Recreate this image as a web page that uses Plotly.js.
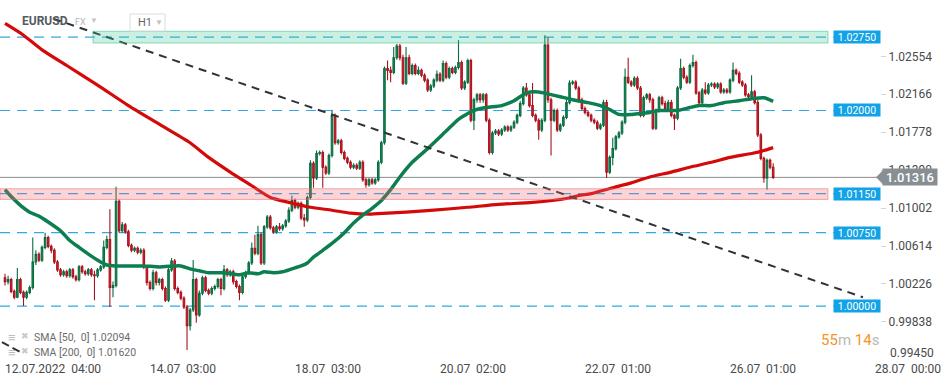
<!DOCTYPE html>
<html>
<head>
<meta charset="utf-8">
<script src="https://cdn.plot.ly/plotly-3.0.1.min.js"></script>
<style>
html,body{margin:0;padding:0;background:#fff;}
#chart{width:949px;height:385px;}
</style>
</head>
<body>
<div id="chart"></div>
<script>
// ---------------- DATA ----------------
const openP = [
1.0029,1.0025,1.0027,1.0015,1.0009,1.0027,1.0014,1.0009,1.0014,1.0019,
1.0045,1.0053,1.0047,1.0060,1.0070,1.0061,1.0057,1.0045,1.0037,1.0032,
1.0035,1.0031,1.0037,1.0030,1.0027,1.0040,1.0035,1.0033,1.0037,1.0032,
1.0031,1.0037,1.0040,1.0060,1.0068,1.0019,1.0021,1.0107,1.0077,1.0083,
1.0076,1.0062,1.0057,1.0059,1.0055,1.0057,1.0040,1.0024,1.0018,1.0034,
1.0024,1.0027,1.0018,1.0006,1.0037,1.0046,1.0018,1.0014,1.0008,0.9999,
0.9980,0.9996,1.0027,0.9991,1.0013,1.0029,1.0016,1.0013,1.0018,1.0020,
1.0027,1.0018,1.0037,1.0032,1.0035,1.0025,1.0020,1.0014,1.0030,1.0034,
1.0044,1.0059,1.0054,1.0073,1.0044,1.0081,1.0091,1.0080,1.0076,1.0081,
1.0079,1.0082,1.0087,1.0098,1.0108,1.0101,1.0105,1.0090,1.0088,1.0111,
1.0146,1.0131,1.0156,1.0157,1.0142,1.0136,1.0154,1.0195,1.0167,1.0169,
1.0157,1.0151,1.0147,1.0142,1.0144,1.0141,1.0147,1.0129,1.0124,1.0129,
1.0126,1.0129,1.0147,1.0167,1.0243,1.0241,1.0239,1.0254,1.0266,1.0254,
1.0228,1.0254,1.0238,1.0246,1.0238,1.0241,1.0236,1.0231,1.0221,1.0225,
1.0231,1.0237,1.0231,1.0248,1.0234,1.0243,1.0239,1.0244,1.0249,1.0223,
1.0229,1.0251,1.0190,1.0211,1.0216,1.0211,1.0216,1.0190,1.0157,1.0177,
1.0179,1.0176,1.0180,1.0183,1.0180,1.0183,1.0188,1.0195,1.0207,1.0223,
1.0216,1.0205,1.0195,1.0190,1.0180,1.0190,1.0267,1.0211,1.0190,1.0200,
1.0180,1.0185,1.0193,1.0208,1.0228,1.0229,1.0223,1.0211,1.0202,1.0198,
1.0195,1.0190,1.0188,1.0182,1.0185,1.0208,1.0137,1.0152,1.0161,1.0173,
1.0177,1.0188,1.0234,1.0229,1.0226,1.0233,1.0223,1.0195,1.0213,1.0216,
1.0211,1.0182,1.0200,1.0213,1.0207,1.0202,1.0208,1.0195,1.0192,1.0223,
1.0243,1.0234,1.0229,1.0246,1.0249,1.0218,1.0208,1.0221,1.0218,1.0226,
1.0227,1.0224,1.0227,1.0219,1.0221,1.0219,1.0231,1.0241,1.0238,1.0229,
1.0226,1.0216,1.0214,1.0219,1.0208,1.0175,1.0151,1.0131,1.0149,1.0142];

const highP = [
1.0033,1.0031,1.0029,1.0017,1.0039,1.0029,1.0016,1.0016,1.0021,1.0070,
1.0057,1.0055,1.0062,1.0075,1.0072,1.0063,1.0059,1.0047,1.0039,1.0037,
1.0037,1.0039,1.0039,1.0032,1.0042,1.0042,1.0037,1.0039,1.0039,1.0036,
1.0039,1.0042,1.0067,1.0072,1.0099,1.0025,1.0122,1.0109,1.0086,1.0085,
1.0078,1.0064,1.0061,1.0061,1.0059,1.0059,1.0042,1.0026,1.0037,1.0036,
1.0029,1.0029,1.0020,1.0039,1.0049,1.0048,1.0020,1.0016,1.0010,1.0001,
0.9998,1.0047,1.0029,1.0016,1.0031,1.0031,1.0018,1.0020,1.0022,1.0029,
1.0029,1.0042,1.0039,1.0037,1.0037,1.0027,1.0022,1.0032,1.0036,1.0046,
1.0065,1.0073,1.0082,1.0075,1.0083,1.0093,1.0093,1.0082,1.0083,1.0085,
1.0084,1.0089,1.0101,1.0113,1.0110,1.0107,1.0107,1.0094,1.0113,1.0149,
1.0148,1.0159,1.0159,1.0159,1.0144,1.0156,1.0200,1.0197,1.0171,1.0171,
1.0159,1.0153,1.0149,1.0146,1.0146,1.0149,1.0149,1.0131,1.0131,1.0131,
1.0131,1.0149,1.0169,1.0245,1.0251,1.0245,1.0265,1.0268,1.0268,1.0257,
1.0265,1.0257,1.0248,1.0248,1.0245,1.0243,1.0238,1.0233,1.0227,1.0233,
1.0241,1.0239,1.0251,1.0250,1.0245,1.0245,1.0246,1.0272,1.0251,1.0231,
1.0253,1.0253,1.0213,1.0218,1.0218,1.0218,1.0218,1.0192,1.0179,1.0181,
1.0181,1.0182,1.0185,1.0185,1.0185,1.0190,1.0197,1.0210,1.0225,1.0228,
1.0218,1.0228,1.0197,1.0192,1.0192,1.0277,1.0275,1.0213,1.0202,1.0202,
1.0187,1.0195,1.0211,1.0231,1.0231,1.0231,1.0225,1.0213,1.0204,1.0200,
1.0197,1.0192,1.0190,1.0187,1.0211,1.0211,1.0154,1.0172,1.0175,1.0179,
1.0190,1.0243,1.0254,1.0231,1.0235,1.0235,1.0225,1.0215,1.0218,1.0218,
1.0213,1.0202,1.0215,1.0215,1.0210,1.0211,1.0211,1.0197,1.0225,1.0253,
1.0245,1.0236,1.0248,1.0257,1.0251,1.0220,1.0223,1.0229,1.0228,1.0229,
1.0229,1.0229,1.0229,1.0223,1.0223,1.0233,1.0249,1.0243,1.0240,1.0231,
1.0228,1.0218,1.0236,1.0221,1.0211,1.0177,1.0153,1.0151,1.0151,1.0146];

const lowP = [
1.0021,1.0022,1.0013,1.0007,1.0008,1.0012,1.0000,1.0007,1.0012,1.0017,
1.0042,1.0045,1.0045,1.0058,1.0059,1.0054,1.0043,1.0035,1.0030,1.0030,
1.0029,1.0029,1.0028,1.0025,1.0025,1.0033,1.0031,1.0031,1.0030,1.0006,
1.0029,1.0035,1.0038,1.0058,0.9999,1.0009,1.0019,1.0075,1.0075,1.0074,
1.0060,1.0055,1.0055,1.0053,1.0053,1.0038,1.0021,1.0016,1.0016,1.0021,
1.0021,1.0016,1.0004,1.0004,1.0035,1.0016,1.0012,1.0006,0.9997,0.9955,
0.9975,0.9994,0.9983,0.9989,1.0011,1.0014,1.0011,1.0011,1.0016,1.0018,
1.0011,1.0016,1.0030,1.0030,1.0022,1.0018,1.0006,1.0012,1.0028,1.0032,
1.0042,1.0052,1.0052,1.0042,1.0042,1.0079,1.0078,1.0074,1.0074,1.0077,
1.0077,1.0080,1.0085,1.0096,1.0099,1.0099,1.0088,1.0081,1.0086,1.0109,
1.0121,1.0129,1.0154,1.0121,1.0134,1.0134,1.0152,1.0165,1.0165,1.0155,
1.0149,1.0145,1.0140,1.0140,1.0139,1.0139,1.0127,1.0121,1.0122,1.0124,
1.0124,1.0127,1.0145,1.0165,1.0231,1.0229,1.0237,1.0252,1.0251,1.0226,
1.0226,1.0236,1.0236,1.0236,1.0236,1.0234,1.0229,1.0219,1.0219,1.0223,
1.0229,1.0229,1.0229,1.0232,1.0232,1.0237,1.0237,1.0242,1.0221,1.0221,
1.0227,1.0188,1.0180,1.0208,1.0208,1.0208,1.0188,1.0155,1.0155,1.0175,
1.0174,1.0174,1.0178,1.0178,1.0178,1.0181,1.0186,1.0193,1.0205,1.0214,
1.0203,1.0193,1.0188,1.0170,1.0178,1.0188,1.0208,1.0154,1.0188,1.0178,
1.0178,1.0183,1.0191,1.0206,1.0226,1.0221,1.0208,1.0200,1.0196,1.0193,
1.0188,1.0186,1.0180,1.0180,1.0183,1.0131,1.0135,1.0144,1.0159,1.0171,
1.0175,1.0186,1.0227,1.0224,1.0224,1.0221,1.0193,1.0193,1.0211,1.0208,
1.0180,1.0180,1.0198,1.0205,1.0200,1.0200,1.0193,1.0180,1.0190,1.0221,
1.0232,1.0227,1.0227,1.0244,1.0216,1.0206,1.0206,1.0216,1.0216,1.0224,
1.0222,1.0222,1.0217,1.0217,1.0217,1.0217,1.0229,1.0236,1.0227,1.0224,
1.0214,1.0212,1.0212,1.0206,1.0173,1.0149,1.0126,1.0119,1.0140,1.0130];

const closeP = [
1.0025,1.0027,1.0015,1.0009,1.0027,1.0014,1.0009,1.0014,1.0019,1.0045,
1.0053,1.0047,1.0060,1.0070,1.0061,1.0057,1.0045,1.0037,1.0032,1.0035,
1.0031,1.0037,1.0030,1.0027,1.0040,1.0035,1.0033,1.0037,1.0032,1.0031,
1.0037,1.0040,1.0060,1.0068,1.0019,1.0021,1.0107,1.0077,1.0083,1.0076,
1.0062,1.0057,1.0059,1.0055,1.0057,1.0040,1.0024,1.0018,1.0034,1.0024,
1.0027,1.0018,1.0006,1.0037,1.0046,1.0018,1.0014,1.0008,0.9999,0.9980,
0.9996,1.0027,0.9991,1.0013,1.0029,1.0016,1.0013,1.0018,1.0020,1.0027,
1.0018,1.0037,1.0032,1.0035,1.0025,1.0020,1.0014,1.0030,1.0034,1.0044,
1.0059,1.0054,1.0073,1.0044,1.0081,1.0091,1.0080,1.0076,1.0081,1.0079,
1.0082,1.0087,1.0098,1.0108,1.0101,1.0105,1.0090,1.0088,1.0111,1.0146,
1.0131,1.0156,1.0157,1.0142,1.0136,1.0154,1.0195,1.0167,1.0169,1.0157,
1.0151,1.0147,1.0142,1.0144,1.0141,1.0147,1.0129,1.0124,1.0129,1.0126,
1.0129,1.0147,1.0167,1.0243,1.0241,1.0239,1.0254,1.0266,1.0254,1.0228,
1.0254,1.0238,1.0246,1.0238,1.0241,1.0236,1.0231,1.0221,1.0225,1.0231,
1.0237,1.0231,1.0248,1.0234,1.0243,1.0239,1.0244,1.0249,1.0223,1.0229,
1.0251,1.0190,1.0211,1.0216,1.0211,1.0216,1.0190,1.0157,1.0177,1.0179,
1.0176,1.0180,1.0183,1.0180,1.0183,1.0188,1.0195,1.0207,1.0223,1.0216,
1.0205,1.0195,1.0190,1.0180,1.0190,1.0267,1.0211,1.0190,1.0200,1.0180,
1.0185,1.0193,1.0208,1.0228,1.0229,1.0223,1.0211,1.0202,1.0198,1.0195,
1.0190,1.0188,1.0182,1.0185,1.0208,1.0137,1.0152,1.0161,1.0173,1.0177,
1.0188,1.0234,1.0229,1.0226,1.0233,1.0223,1.0195,1.0213,1.0216,1.0211,
1.0182,1.0200,1.0213,1.0207,1.0202,1.0208,1.0195,1.0192,1.0223,1.0243,
1.0234,1.0229,1.0246,1.0249,1.0218,1.0208,1.0221,1.0218,1.0226,1.0227,
1.0224,1.0227,1.0219,1.0221,1.0219,1.0231,1.0241,1.0238,1.0229,1.0226,
1.0216,1.0214,1.0219,1.0208,1.0175,1.0151,1.0131,1.0149,1.0142,1.01316];

// SMA 50 (green) read at bar indices
const sma50X = [0,2,5,8,11,14,18,21,24,28,31,33,36,41,45,50,55,57,60,63,66,71,76,79,82,84,87,90,93,96,98,100,103,106,110,113,116,119,122,125,128,132,137,143,147,152,156,161,165,169,173,176,180,184,189,193,196,199,203,206,209,212,218,222,225,229,233,238,242,246,249];
const sma50Y = [1.0119,1.0112,1.0103,1.0096,1.0092,1.0086,1.0077,1.0067,1.0060,1.0051,1.0045,1.0042,1.0041,1.0041,1.0041,1.0040,1.0041,1.0041,1.0038,1.0036,1.0034,1.0034,1.0032,1.0034,1.0033,1.0035,1.0034,1.0035,1.0038,1.0041,1.0044,1.0050,1.0057,1.0064,1.0075,1.0085,1.0093,1.0100,1.0108,1.0119,1.0132,1.0147,1.0161,1.0179,1.0191,1.0200,1.0203,1.0205,1.0210,1.0218,1.0219,1.0217,1.0214,1.0211,1.0208,1.0205,1.0201,1.0196,1.0196,1.0197,1.0198,1.0200,1.0200,1.0203,1.0205,1.0205,1.0208,1.0210,1.0212,1.0213,1.02094];

// SMA 200 (red)
const sma200X = [0,6,12,20,30,40,50,60,66,73,80,86,92,99,106,112,118,124,130,139,150,160,171,182,186,190,197,203,209,216,222,229,235,242,246,249];
const sma200Y = [1.0289,1.0277,1.0262,1.0246,1.0226,1.0205,1.0186,1.0167,1.0152,1.0137,1.0123,1.0111,1.0106,1.0101,1.0098,1.0095,1.0094,1.0095,1.0096,1.0098,1.0101,1.0104,1.0106,1.0110,1.0113,1.0115,1.0121,1.0126,1.0132,1.0137,1.0142,1.0147,1.0152,1.0156,1.0159,1.01620];

// x-axis tick labels (bar index -> time)
const tickBars = [0,47,94,141,188,235,282];
const tickLabels = ['12.07.2022  04:00','14.07  03:00','18.07  03:00','20.07  02:00','22.07  01:00','26.07  01:00','28.07  00:00'];

// y-axis ticks (lowest one drawn as a label just above the time axis)
const yTicks = [1.02554,1.02166,1.01778,1.01390,1.01002,1.00614,1.00226,0.99838];
const yBottomTick = 0.99450;

// horizontal levels
const levels = [1.0275,1.0200,1.0115,1.0075,1.0000];
const levelLabels = ['1.02750','1.02000','1.01150','1.00750','1.00000'];
const greenBand = [1.0269,1.0281];
const redBand = [1.0109,1.0120];
const lastPrice = 1.01316;

// trend lines (drawn tools)
const trendX = [15.6,278.1];
const trendY = [1.0294,1.0009];
const trend2X = [-1.0,4.9];
const trend2Y = [0.9963,0.9953];

// ---------------- LAYOUT HELPERS ----------------
const W = 880, H = 360;           // plot area in px
const STEP = 3.085, X0 = 5;        // px per bar, px of bar 0
const barAt = px => (px - X0) / STEP;
const P = px => px / W;
const Q = py => 1 - py / H;
const xr = [barAt(0), barAt(W)];
const yr = [0.99448, 1.0313];
const FONT = 'Roboto, Arial, sans-serif';
const idx = closeP.map((_, i) => i);

const traces = [
  {type:'scatter', mode:'lines', x:sma200X, y:sma200Y, line:{color:'#d40a0a', width:3.2, shape:'spline', smoothing:0.6}, hoverinfo:'skip'},
  {type:'scatter', mode:'lines', x:sma50X, y:sma50Y, line:{color:'#0c7f50', width:3.5, shape:'spline', smoothing:0.6}, hoverinfo:'skip'},
  {type:'candlestick', x:idx, open:openP, high:highP, low:lowP, close:closeP,
   increasing:{line:{color:'#0a6b41', width:1.1}, fillcolor:'#14975c'},
   decreasing:{line:{color:'#a9131d', width:1.1}, fillcolor:'#e3232f'},
   whiskerwidth:0, hoverinfo:'skip'},
  {type:'scatter', mode:'lines', x:trendX, y:trendY, line:{color:'#2e3338', width:2, dash:'8px,6px'}, hoverinfo:'skip'},
  {type:'scatter', mode:'lines', x:trend2X, y:trend2Y, line:{color:'#2e3338', width:2, dash:'8px,4px'}, hoverinfo:'skip'}
];

const shapes = [];
levels.forEach(v => shapes.push({type:'line', xref:'x', yref:'y', x0:xr[0], x1:barAt(834), y0:v, y1:v,
  line:{color:'#33a8e2', width:1.2, dash:'10px,7px'}, layer:'below'}));
shapes.push({type:'line', xref:'paper', yref:'y', x0:0, x1:1, y0:lastPrice, y1:lastPrice, line:{color:'#8c8c8c', width:1}, layer:'below'});
shapes.push({type:'rect', xref:'x', yref:'y', x0:barAt(93), x1:barAt(828), y0:greenBand[0], y1:greenBand[1],
  fillcolor:'rgba(60,200,150,0.28)', line:{color:'rgba(60,190,140,0.55)', width:1}, layer:'above'});
shapes.push({type:'rect', xref:'x', yref:'y', x0:xr[0], x1:barAt(828), y0:redBand[0], y1:redBand[1],
  fillcolor:'rgba(238,100,108,0.28)', line:{color:'rgba(238,100,108,0.5)', width:1}, layer:'above'});
// H1 box
shapes.push({type:'rect', xref:'paper', yref:'paper', x0:P(130), x1:P(165), y0:Q(31), y1:Q(14), line:{color:'#dcdcdc', width:1}, fillcolor:'#fff', layer:'above'});
// current price badge arrow
const dy = 8 / (H / (yr[1] - yr[0]));
shapes.push({type:'path', xref:'paper', yref:'y',
  path:`M ${P(876)},${lastPrice} L ${P(884)},${lastPrice + dy} L ${P(884)},${lastPrice - dy} Z`,
  fillcolor:'#878f94', line:{width:0}, layer:'above'});

const annotations = [];
levels.forEach((v, i) => annotations.push({xref:'paper', yref:'y', x:P(857), y:v, xanchor:'center', yanchor:'middle',
  text:levelLabels[i], showarrow:false, bgcolor:'#12a2e6', width:46, height:12, borderpad:0,
  font:{family:FONT, size:10.5, color:'#ffffff'}}));
annotations.push({xref:'paper', yref:'y', x:P(910), y:lastPrice, xanchor:'center', yanchor:'middle',
  text:'1.01316', showarrow:false, bgcolor:'#878f94', width:54, height:16, borderpad:0,
  font:{family:FONT, size:13, color:'#ffffff', weight:500}});
const txt = (x, y, text, size, color, anchor, weight) => annotations.push({xref:'paper', yref:'paper', x:P(x), y:Q(y),
  xanchor:anchor || 'left', yanchor:'middle', text, showarrow:false, font:{family:FONT, size, color, weight:weight || 400}});
txt(20, 21, 'EURUSD', 12, '#555b61', 'left', 700);
txt(73, 22, 'FX', 9, '#b4b4b4');
txt(88, 20, '▼', 8, '#c6c6c6');
txt(136, 22.5, 'H1', 11, '#666666');
txt(153, 22, '▼', 8, '#c0c0c0');
txt(6, 337, '≡', 13, '#bdbdbd');
txt(19, 336, '✖', 9, '#c8c8c8');
txt(6, 352, '≡', 13, '#bdbdbd');
txt(19, 351, '✖', 9, '#c8c8c8');
txt(32, 337, 'SMA [50,  0] 1.02094', 10.5, '#6b6b6b');
txt(32, 352, 'SMA [200,  0] 1.01620', 10.5, '#6b6b6b');
txt(881, 340, '<span style="color:#f7931e">55</span><span style="color:#b8b8b8">m </span><span style="color:#f7931e">14</span><span style="color:#b8b8b8">s</span>', 15, '#f7931e', 'right');
txt(888, 353, yBottomTick.toFixed(5), 12, '#4a4a4a');

const layout = {
  width:949, height:385,
  margin:{l:0, r:949 - W, t:0, b:385 - H, pad:0},
  paper_bgcolor:'#ffffff', plot_bgcolor:'#ffffff',
  showlegend:false,
  font:{family:FONT},
  xaxis:{range:xr, showgrid:false, zeroline:false, showline:false,
    tickmode:'array', tickvals:tickBars, ticktext:tickLabels.map(s => s.replace(/ /g, '\u00a0')),
    ticks:'', ticklabelposition:'outside right', tickfont:{family:FONT, size:12, color:'#4a4a4a'},
    rangeslider:{visible:false}, fixedrange:true},
  yaxis:{range:yr, side:'right', showgrid:false, zeroline:false, showline:false,
    tickmode:'array', tickvals:yTicks, ticktext:yTicks.map(v => v.toFixed(5)),
    ticks:'outside', ticklen:5, tickcolor:'#d4d4d4', tickfont:{family:FONT, size:12, color:'#4a4a4a'}, fixedrange:true},
  shapes, annotations
};

Plotly.newPlot('chart', traces, layout, {staticPlot:true, displayModeBar:false});
</script>
</body>
</html>
